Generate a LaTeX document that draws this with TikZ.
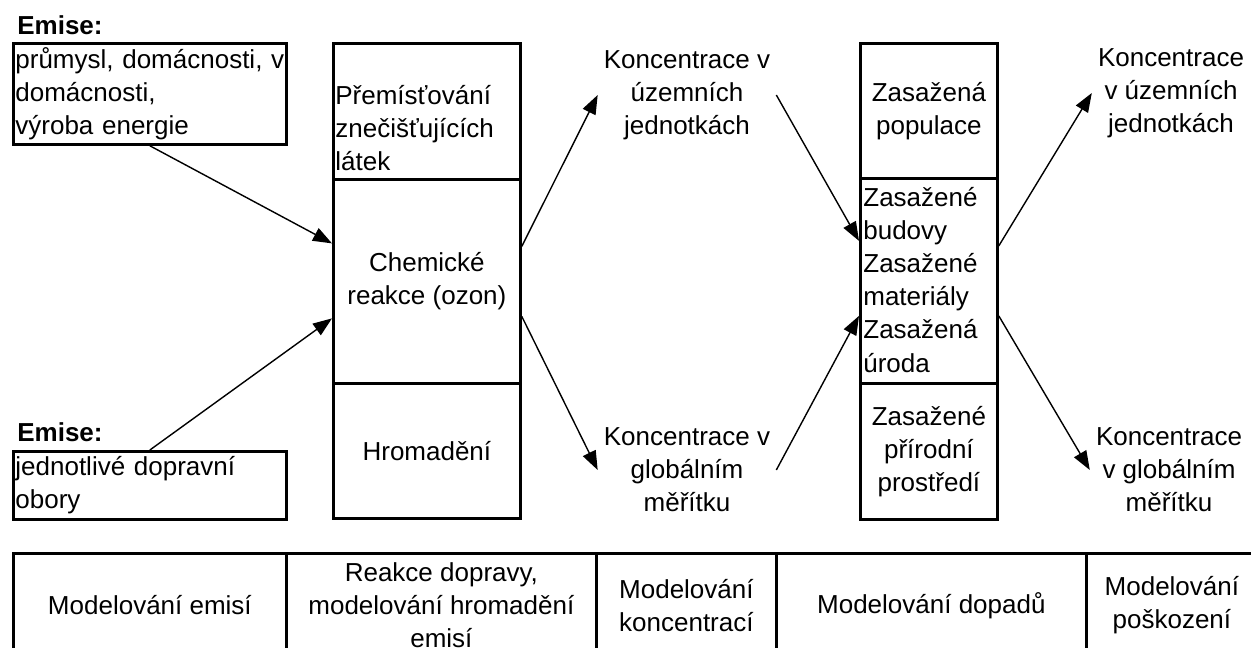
\documentclass[tikz,border=0pt]{standalone}
\usepackage{fontspec}
\setmainfont{Liberation Sans}
\usetikzlibrary{arrows.meta}

\newcommand\tamletra{\fontsize{14.8}{18.8}\selectfont}

\tikzset{
  caja/.style={draw, line width=1.6pt, inner sep=0pt, anchor=north west},
  texto/.style={align=center},
  flecha/.style={-{Triangle[length=0.38cm,width=0.28cm]}, line width=0.8pt},
}

\begin{document}
\begin{tikzpicture}[x=0.02cm, y=-0.02cm, font=\tamletra]
        \clip (0,0) rectangle (1251,648);

        % Emisiones
        \node[anchor=west, inner sep=0pt, font=\tamletra\bfseries] (titA) at (17,25) {Emise:};
        \node[caja, minimum width=5.46cm, minimum height=2.02cm, text width=5.38cm, align=left, inner sep=1pt] (emiseA) at (12,42)
            {průmysl, domácnosti, v\\domácnosti,\\výroba energie};
        \node[anchor=west, inner sep=0pt, font=\tamletra\bfseries] (titB) at (17,432) {Emise:};
        \node[caja, minimum width=5.46cm, minimum height=1.36cm, text width=5.38cm, align=left, inner sep=1pt] (emiseB) at (12,450)
            {jednotlivé dopravní\\obory};

        % Columna de transporte
        \node[caja, minimum width=3.74cm, minimum height=2.72cm] (trans) at (332,42) {};
        \node[caja, minimum width=3.74cm, minimum height=4.08cm] (chem) at (332,178) {};
        \node[caja, minimum width=3.74cm, minimum height=2.7cm] (hrom) at (332,382) {};
        \node[anchor=west, align=left, inner sep=0pt] (transT) at (335,128) {Přemísťování\\znečišťujících\\látek};
        \node[texto] (chemT) at (chem) {Chemické\\reakce (ozon)};
        \node[texto] (hromT) at (hrom) {Hromadění};

        % Concentraciones
        \node[texto] (konA) at (687,95) {Koncentrace v\\územních\\jednotkách};
        \node[texto] (konB) at (687,470) {Koncentrace v\\globálním\\měřítku};

        % Columna de impactos
        \node[caja, minimum width=2.74cm, minimum height=2.7cm] (pop) at (859,42) {};
        \node[caja, minimum width=2.74cm, minimum height=4.1cm] (bud) at (859,177) {};
        \node[caja, minimum width=2.74cm, minimum height=2.72cm] (prir) at (859,382) {};
        \node[texto] (popT) at (pop) {Zasažená\\populace};
        \node[anchor=west, align=left, inner sep=0pt] (budT) at (863,280)
            {Zasažené\\budovy\\Zasažené\\materiály\\Zasažená\\úroda};
        \node[texto] (prirT) at (prir) {Zasažené\\přírodní\\prostředí};

        \node[texto] (konC) at (1171,93) {Koncentrace\\v územních\\jednotkách};
        \node[texto] (konD) at (1169,470) {Koncentrace\\v globálním\\měřítku};

        % Flechas
        \draw[flecha] (emiseA.south) -- ([yshift=0.76cm]chem.west);
        \draw[flecha] (emiseB.north) -- ([yshift=-0.74cm]chem.west);
        \draw[flecha] ([yshift=0.7cm]chem.east) -- (konA.west);
        \draw[flecha] ([yshift=-0.7cm]chem.east) -- (konB.west);
        \draw[flecha] (konA.east) -- ([yshift=0.8cm]bud.west);
        \draw[flecha] (konB.east) -- ([yshift=-0.7cm]bud.west);
        \draw[flecha] ([yshift=0.7cm]bud.east) -- (konC.west);
        \draw[flecha] ([yshift=-0.7cm]bud.east) -- (konD.west);

        % Tabla de modelos
        \foreach \n/\x/\w/\t in {A/12/5.46/{Modelování emisí},
                                 B/285/6.2/{Reakce dopravy,\\modelování hromadění\\emisí},
                                 C/595/3.6/{Modelování\\koncentrací},
                                 D/775/6.2/{Modelování dopadů},
                                 E/1085/3.42/{Modelování\\poškození}}
            \node[caja, align=center, minimum width=\w cm, minimum height=2.08cm] (mod\n) at (\x,552) {\t};
\end{tikzpicture}
\end{document}
